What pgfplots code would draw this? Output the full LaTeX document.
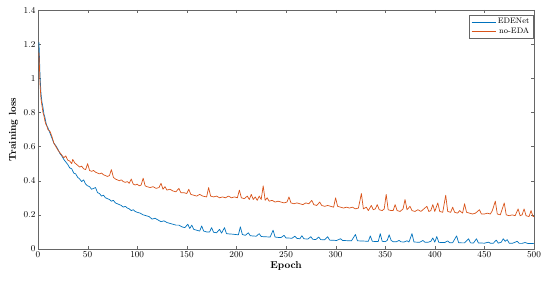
\documentclass[border=0pt]{standalone}
\usepackage{pgfplots}
\pgfplotsset{compat=1.18}
\definecolor{mblue}{rgb}{0,0.447,0.741}
\definecolor{morange}{rgb}{0.85,0.325,0.098}
\begin{document}
\begin{tikzpicture}
\useasboundingbox (-38bp,-36bp) rectangle (512bp,249bp);
\begin{axis}[
  at={(0,0)}, anchor=south west,
  scale only axis, width=496bp, height=239bp,
  xmin=0, xmax=500, ymin=0, ymax=1.4,
  xtick={0,50,...,500},
  ytick={0,0.2,0.4,0.6,0.8,1,1.2,1.4},
  yticklabels={0,0.2,0.4,0.6,0.8,1,1.2,1.4},
  tick align=inside,
  tick pos=both,
  major tick length=3bp,
  axis line style={draw=black!60},
  tick style={draw=black!60},
  ticklabel style={font=\small},
  xticklabel style={yshift=1bp},
  yticklabel style={xshift=1bp},
  xlabel={\textbf{Epoch}}, ylabel={\textbf{Training loss}},
  label style={font=\normalsize},
  xlabel style={yshift=3bp},
  ylabel style={yshift=-1bp},
  legend style={at={(rel axis cs:0.998,0.98)}, anchor=north east, font=\footnotesize, draw=black!60, inner sep=1.5pt, row sep=-2pt, legend cell align=right},
  legend image code/.code={\draw[#1] (0cm,0cm) -- (0.85cm,0cm);},
  every axis plot/.append style={line width=0.7pt, line join=round},
]
\addplot[mblue] coordinates {
(1,1.21)(2,1.02)(3,0.91)(4,0.86)(5,0.83)(6,0.79)(7,0.77)(8,0.74)(9,0.72)(10,0.71)
(12,0.68)(14,0.65)(16,0.62)(18,0.605)(20,0.585)(22,0.56)(24,0.545)(26,0.525)(28,0.51)(30,0.495)
(32,0.475)(34,0.47)(36,0.445)(38,0.44)(40,0.42)(42,0.41)(44,0.395)(46,0.405)(48,0.38)(50,0.37)
(52,0.365)(54,0.35)(56,0.355)(58,0.36)(60,0.33)(62,0.325)(64,0.31)(66,0.315)(68,0.30)(70,0.295)
(72,0.29)(74,0.28)(76,0.285)(78,0.27)(80,0.265)(82,0.26)(84,0.255)(86,0.245)(88,0.25)(90,0.24)
(92,0.235)(94,0.225)(96,0.23)(98,0.22)(100,0.215)(103,0.21)(106,0.20)(109,0.195)(112,0.19)(115,0.175)
(118,0.18)(121,0.17)(124,0.16)(127,0.165)(130,0.155)(133,0.15)(136,0.145)(139,0.14)(142,0.14)(145,0.13)
(148,0.125)(151,0.145)(153,0.12)(155,0.14)(157,0.115)(160,0.11)(163,0.105)(165,0.135)(167,0.105)(170,0.10)
(173,0.10)(175,0.125)(177,0.098)(180,0.095)(183,0.115)(185,0.093)(188,0.125)(190,0.09)(193,0.088)(196,0.087)
(199,0.085)(202,0.083)(204,0.13)(206,0.085)(209,0.08)(212,0.095)(214,0.078)(217,0.076)(220,0.075)(223,0.09)
(225,0.073)(228,0.072)(231,0.071)(234,0.07)(237,0.11)(239,0.07)(242,0.068)(245,0.067)(248,0.08)(250,0.065)
(253,0.064)(256,0.063)(259,0.075)(261,0.062)(264,0.06)(266,0.078)(268,0.06)(272,0.058)(275,0.072)(277,0.057)
(280,0.055)(283,0.07)(285,0.055)(289,0.054)(292,0.072)(294,0.052)(298,0.051)(301,0.05)(305,0.06)(307,0.05)
(311,0.049)(316,0.048)(320,0.085)(322,0.048)(326,0.047)(330,0.046)(333,0.045)(335,0.077)(337,0.045)(340,0.044)
(343,0.044)(345,0.09)(347,0.045)(350,0.043)(352,0.05)(354,0.083)(356,0.05)(358,0.043)(361,0.042)(364,0.05)
(366,0.042)(369,0.041)(372,0.048)(374,0.041)(377,0.09)(379,0.041)(382,0.04)(385,0.04)(388,0.05)(390,0.04)
(393,0.039)(396,0.045)(398,0.065)(400,0.04)(402,0.073)(404,0.039)(407,0.038)(410,0.038)(413,0.047)(415,0.037)
(418,0.037)(422,0.077)(424,0.037)(427,0.036)(430,0.036)(434,0.06)(436,0.036)(439,0.035)(442,0.06)(444,0.035)
(447,0.035)(450,0.034)(454,0.04)(456,0.034)(459,0.034)(462,0.052)(464,0.034)(467,0.04)(469,0.06)(471,0.045)
(473,0.055)(475,0.034)(478,0.033)(481,0.04)(483,0.045)(485,0.033)(488,0.033)(491,0.038)(494,0.032)(497,0.032)
(500,0.033)
};
\addlegendentry{EDENet}
\addplot[morange] coordinates {
(1,1.15)(2,0.97)(3,0.88)(4,0.84)(5,0.80)(6,0.78)(7,0.75)(8,0.73)(9,0.72)(10,0.70)
(12,0.69)(14,0.66)(16,0.62)(18,0.60)(20,0.58)(22,0.565)(24,0.55)(26,0.535)(28,0.545)(30,0.52)
(32,0.515)(34,0.50)(35,0.525)(37,0.505)(40,0.49)(42,0.48)(44,0.485)(46,0.47)(48,0.465)(50,0.50)
(52,0.46)(54,0.455)(56,0.46)(58,0.45)(60,0.445)(62,0.44)(64,0.445)(66,0.435)(68,0.43)(70,0.425)
(72,0.43)(74,0.465)(76,0.42)(78,0.41)(80,0.405)(82,0.40)(84,0.405)(86,0.395)(88,0.39)(90,0.395)
(92,0.385)(94,0.41)(96,0.38)(98,0.375)(100,0.38)(102,0.37)(104,0.375)(106,0.415)(108,0.37)(110,0.365)
(113,0.36)(116,0.365)(119,0.355)(122,0.36)(124,0.385)(126,0.35)(128,0.365)(130,0.345)(133,0.35)(136,0.34)
(139,0.335)(142,0.355)(144,0.33)(147,0.33)(150,0.325)(152,0.35)(154,0.32)(157,0.315)(160,0.31)(163,0.32)
(166,0.31)(170,0.305)(172,0.36)(174,0.31)(177,0.305)(180,0.31)(183,0.30)(186,0.305)(189,0.30)(192,0.31)
(195,0.30)(198,0.305)(201,0.30)(203,0.345)(205,0.30)(208,0.295)(211,0.31)(213,0.29)(215,0.32)(217,0.29)
(219,0.305)(221,0.285)(223,0.31)(225,0.29)(227,0.37)(229,0.285)(231,0.30)(233,0.28)(236,0.285)(239,0.275)
(242,0.28)(245,0.275)(248,0.27)(251,0.275)(253,0.305)(255,0.27)(258,0.265)(261,0.27)(264,0.265)(267,0.26)
(270,0.27)(273,0.265)(276,0.285)(278,0.26)(281,0.255)(284,0.275)(286,0.255)(289,0.25)(292,0.255)(295,0.25)
(298,0.245)(300,0.30)(302,0.25)(305,0.245)(308,0.24)(311,0.245)(314,0.24)(317,0.245)(320,0.235)(323,0.24)
(326,0.325)(328,0.235)(331,0.245)(333,0.225)(336,0.255)(338,0.23)(340,0.235)(342,0.26)(344,0.23)(347,0.225)
(349,0.235)(351,0.32)(353,0.23)(356,0.225)(358,0.225)(360,0.26)(362,0.225)(365,0.22)(368,0.235)(370,0.29)
(372,0.23)(375,0.25)(377,0.225)(380,0.22)(383,0.23)(386,0.22)(389,0.235)(392,0.25)(394,0.22)(396,0.225)
(398,0.26)(400,0.22)(403,0.27)(405,0.22)(408,0.215)(411,0.315)(413,0.22)(416,0.215)(418,0.245)(420,0.215)
(423,0.21)(425,0.225)(428,0.21)(430,0.265)(432,0.215)(435,0.21)(438,0.205)(441,0.21)(445,0.23)(447,0.205)
(450,0.205)(453,0.21)(456,0.205)(458,0.225)(461,0.28)(463,0.205)(466,0.2)(470,0.27)(472,0.2)(475,0.195)
(478,0.2)(481,0.195)(484,0.235)(486,0.195)(488,0.2)(490,0.235)(492,0.195)(495,0.19)(497,0.225)(499,0.19)
(500,0.19)
};
\addlegendentry{no-EDA}
\end{axis}
\end{tikzpicture}
\end{document}
